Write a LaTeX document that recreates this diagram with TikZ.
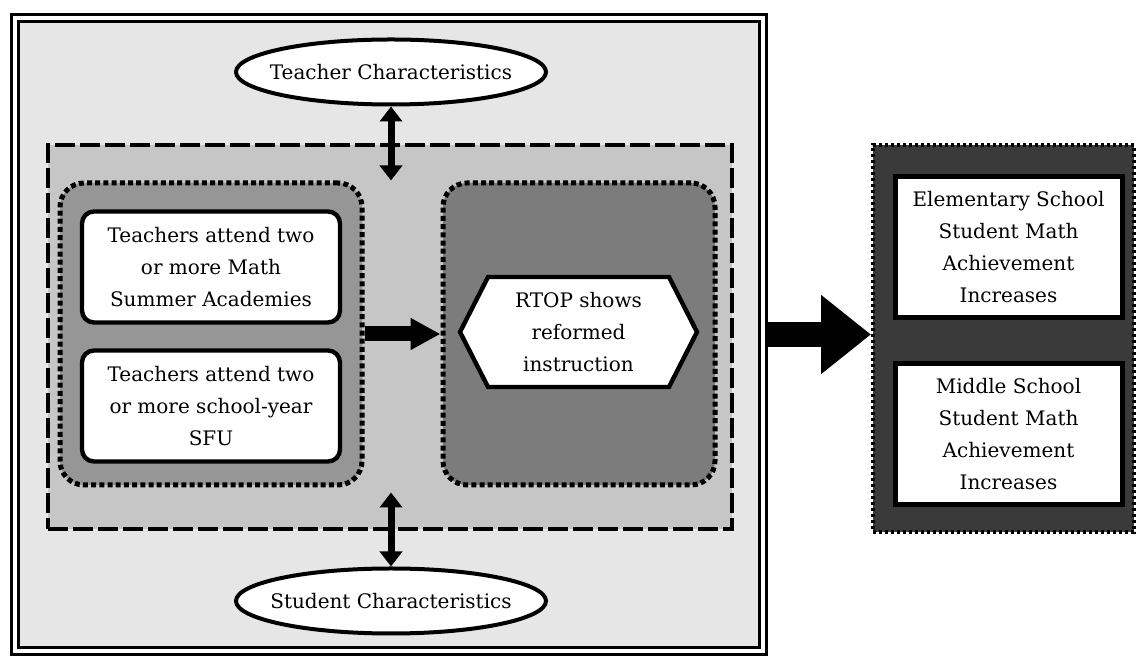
\documentclass[tikz,border=0pt]{standalone}
\usepackage{fontspec}
\setmainfont{DejaVu Serif}
\usepackage{tikz}
\usetikzlibrary{
  arrows.meta,
  shapes.geometric,
  shapes.symbols,
  positioning,
  calc
}
\definecolor{fwFrame}{HTML}{E6E6E6}
\definecolor{fwPanel}{HTML}{C6C6C6}
\definecolor{fwGroup}{HTML}{969696}
\definecolor{fwDeep}{HTML}{7C7C7C}
\definecolor{fwOut}{HTML}{3A3A3A}
\tikzset{
  fwtext/.style={font=\fontsize{10}{16}\selectfont, align=center},
  outerframe/.style={
    draw, double, double distance=2pt, line width=1.6pt, fill=fwFrame,
    minimum width=374pt, minimum height=316.5pt, inner sep=0pt
  },
  panel/.style={
    draw, line width=2pt, dash pattern=on 10pt off 2.5pt, fill=fwPanel,
    minimum width=342pt, minimum height=192pt, inner sep=0pt
  },
  cluster/.style={
    draw, line width=2.5pt, dash pattern=on 2.5pt off 1.6pt, rounded corners=12pt,
    minimum width=151pt, minimum height=151pt, inner sep=0pt
  },
  card/.style={
    fwtext, draw, line width=2.2pt, rounded corners=6pt, fill=white,
    minimum width=129pt, minimum height=55.5pt, inner sep=0pt
  },
  hexcard/.style={
    fwtext, draw, line width=2.2pt, fill=white, shape=signal,
    signal to=east and west, signal pointer angle=126,
    minimum width=118.5pt, minimum height=55pt, inner sep=0pt
  },
  trait/.style={
    fwtext, draw, ellipse, line width=2pt, fill=white,
    minimum width=155pt, minimum height=32.5pt, inner sep=0pt
  },
  result/.style={
    draw, line width=2pt, dash pattern=on 1.5pt off 1.5pt, fill=fwOut,
    minimum width=130.5pt, minimum height=193.5pt, inner sep=0pt
  },
  resultbox/.style={
    fwtext, draw, line width=2.5pt, fill=white,
    minimum width=113.5pt, minimum height=70.5pt, inner sep=0pt
  },
  link/.style={{Triangle[length=7.5pt, width=11pt]}-{Triangle[length=7.5pt, width=11pt]}, line width=3.5pt},
  flow/.style={-{Triangle[length=15pt, width=15pt]}, line width=7.5pt},
  bigflow/.style={-{Triangle[length=25pt, width=38pt]}, line width=12.5pt}
}

\begin{document}
\begin{tikzpicture}[x=0.5pt, y=-0.5pt]
  \useasboundingbox (0,0) rectangle (1136,656);
  % study frame
  \node[outerframe] (frame) at (389,334.5) {};
  \node[panel] (panel) at (390,337) {};
  \node[cluster, fill=fwGroup] (lgrp) at (211,334) {};
  \node[cluster, fill=fwDeep, minimum width=136pt] (rgrp) at (579,334) {};
  % professional development
  \node[card] (sum) at (211,267) {Teachers attend two\\or more Math\\Summer Academies};
  \node[card] (sfu) at (211,406) {Teachers attend two\\or more school-year\\SFU};
  \node[hexcard] (rtop) at (578.5,332) {RTOP shows\\reformed\\instruction};
  % characteristics
  \node[trait] (tch) at (391,72) {\makebox[0pt]{Teacher Characteristics}};
  \node[trait] (stu) at (391,601) {\makebox[0pt]{Student Characteristics}};
  \coordinate (tchin) at (tch.south |- lgrp.north);
  \coordinate (stuin) at ($(stu.north |- lgrp.south)+(0,5)$);
  \draw[link] (tch) -- (tchin);
  \draw[link] (stuin) -- (stu);
  \draw[flow] (lgrp) -- (rgrp);
  % outcomes
  \node[result] (out) at (1003.5,338.5) {};
  \node[resultbox] (elem) at (1008.5,247.5) {Elementary School\\Student Math\\Achievement\\Increases};
  \node[resultbox] (mid) at (1008.5,434) {Middle School\\Student Math\\Achievement\\Increases};
  \draw[bigflow] (frame.east) -- (frame.east -| out.west);
\end{tikzpicture}
\end{document}
